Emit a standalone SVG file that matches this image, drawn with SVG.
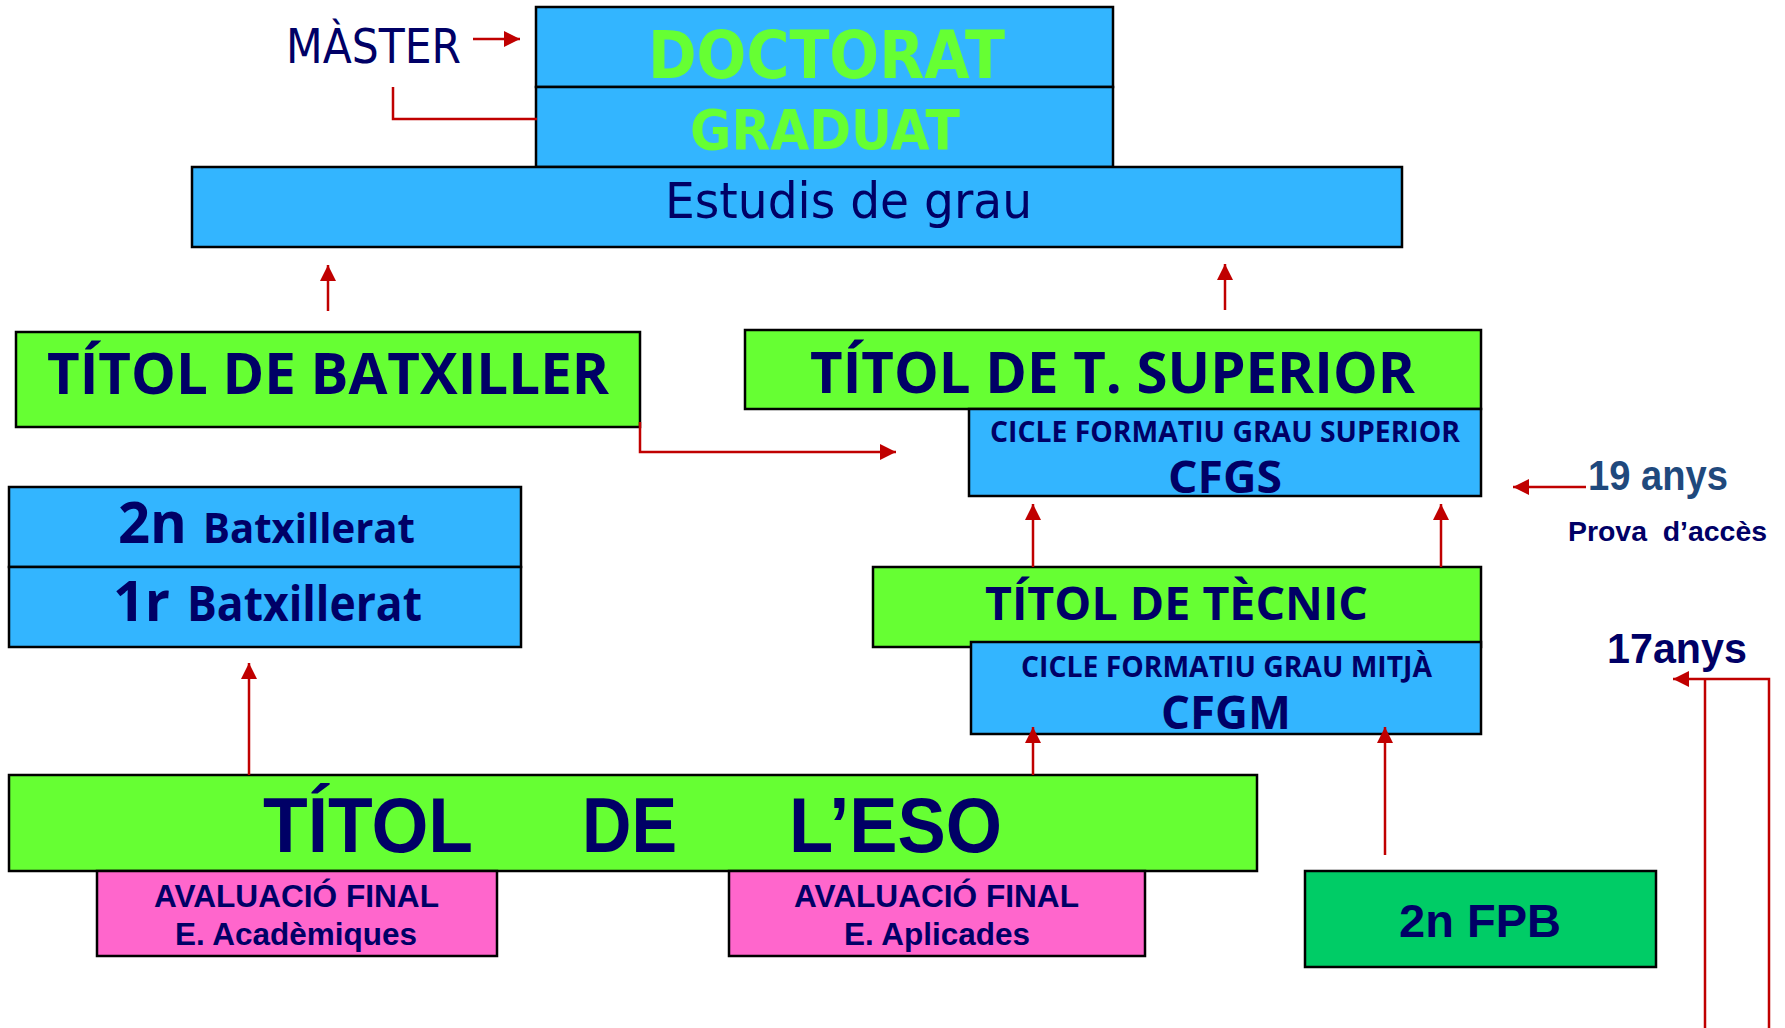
<svg xmlns="http://www.w3.org/2000/svg" width="1785" height="1028" viewBox="0 0 1785 1028">
<style>
.box{stroke:#000;stroke-width:2.5}
.blue{fill:#33B5FF}
.green{fill:#66FF33}
.pink{fill:#FF66CC}
.fpb{fill:#00CC66}
.nv{fill:#000066}
.hum{font-family:"Open Sans","Noto Sans",sans-serif;font-weight:bold}
.ver{font-family:"DejaVu Sans",Verdana,sans-serif}
.ari{font-family:"Liberation Sans",Arial,sans-serif;font-weight:bold}
.con{fill:none;stroke:#C00000;stroke-width:2.5}
</style>
<defs>
<marker id="ah" markerUnits="userSpaceOnUse" markerWidth="17" markerHeight="17" refX="16" refY="8" orient="auto">
<path d="M0,0 L16,8 L0,16 z" fill="#C00000"/>
</marker>
</defs>
<rect width="1785" height="1028" fill="#fff"/>

<g id="master">
<text x="286" y="63" class="ver nv" font-size="48" textLength="175" lengthAdjust="spacingAndGlyphs">MÀSTER</text>
</g>
<g id="doctorat">
<rect x="536" y="7" width="577" height="80" class="box blue"/>
<text x="648" y="78" class="ver" font-weight="bold" font-size="66" fill="#66FF33" textLength="357" lengthAdjust="spacingAndGlyphs">DOCTORAT</text>
</g>
<g id="graduat">
<rect x="536" y="87" width="577" height="80" class="box blue"/>
<text x="690" y="149" class="ver" font-weight="bold" font-size="56" fill="#66FF33" textLength="270" lengthAdjust="spacingAndGlyphs">GRADUAT</text>
</g>
<g id="estudis">
<rect x="192" y="167" width="1210" height="80" class="box blue"/>
<text x="665" y="218" class="ver nv" font-size="50" textLength="367" lengthAdjust="spacingAndGlyphs">Estudis de grau</text>
</g>
<g id="batxiller">
<rect x="16" y="332" width="624" height="95" class="box green"/>
<text x="47" y="394" class="hum nv" font-size="57" textLength="562" lengthAdjust="spacingAndGlyphs">TÍTOL DE BATXILLER</text>
</g>
<g id="tsuperior">
<rect x="745" y="330" width="736" height="79" class="box green"/>
<text x="810" y="393" class="hum nv" font-size="57" textLength="605" lengthAdjust="spacingAndGlyphs">TÍTOL DE T. SUPERIOR</text>
</g>
<g id="cfgs">
<rect x="969" y="409" width="512" height="87" class="box blue"/>
<text x="990" y="442" class="hum nv" font-size="28" textLength="470" lengthAdjust="spacingAndGlyphs">CICLE FORMATIU GRAU SUPERIOR</text>
<text x="1168" y="493" class="hum nv" font-size="44" textLength="114" lengthAdjust="spacingAndGlyphs">CFGS</text>
</g>
<g id="batx2">
<rect x="9" y="487" width="512" height="80" class="box blue"/>
<text x="118" y="543" class="hum nv" font-size="57" textLength="69" lengthAdjust="spacingAndGlyphs">2n</text>
<text x="203" y="543" class="hum nv" font-size="42" textLength="212" lengthAdjust="spacingAndGlyphs">Batxillerat</text>
</g>
<g id="batx1">
<rect x="9" y="567" width="512" height="80" class="box blue"/>
<text x="113" y="621" class="hum nv" font-size="55" textLength="57" lengthAdjust="spacingAndGlyphs">1r</text>
<text x="187" y="621" class="hum nv" font-size="48" textLength="235" lengthAdjust="spacingAndGlyphs">Batxillerat</text>
</g>
<g id="tecnic">
<rect x="873" y="567" width="608" height="80" class="box green"/>
<text x="985" y="620" class="hum nv" font-size="46" textLength="383" lengthAdjust="spacingAndGlyphs">TÍTOL DE TÈCNIC</text>
</g>
<g id="cfgm">
<rect x="971" y="642" width="510" height="92" class="box blue"/>
<text x="1021" y="677" class="hum nv" font-size="28" textLength="411" lengthAdjust="spacingAndGlyphs">CICLE FORMATIU GRAU MITJÀ</text>
<text x="1161" y="729" class="hum nv" font-size="46" textLength="130" lengthAdjust="spacingAndGlyphs">CFGM</text>
</g>
<g id="anys19">
<text x="1588" y="490" class="ari" font-size="42" fill="#1F497D" textLength="140" lengthAdjust="spacingAndGlyphs">19 anys</text>
<text x="1568" y="541" class="ari nv" font-size="28" xml:space="preserve" textLength="199" lengthAdjust="spacingAndGlyphs">Prova  d’accès</text>
</g>
<g id="anys17">
<text x="1607" y="663" class="ari nv" font-size="42" textLength="140" lengthAdjust="spacingAndGlyphs">17anys</text>
</g>
<g id="eso">
<rect x="9" y="775" width="1248" height="96" class="box green"/>
<text y="852" class="ari nv" font-size="77"><tspan x="263" textLength="210" lengthAdjust="spacingAndGlyphs">TÍTOL</tspan><tspan x="582" textLength="95" lengthAdjust="spacingAndGlyphs">DE</tspan><tspan x="789" textLength="213" lengthAdjust="spacingAndGlyphs">L’ESO</tspan></text>
</g>
<g id="aval1">
<rect x="97" y="871" width="400" height="85" class="box pink"/>
<text x="154" y="907" class="ari nv" font-size="31" textLength="285" lengthAdjust="spacingAndGlyphs">AVALUACIÓ FINAL</text>
<text x="175" y="945" class="ari nv" font-size="31" textLength="242" lengthAdjust="spacingAndGlyphs">E. Acadèmiques</text>
</g>
<g id="aval2">
<rect x="729" y="871" width="416" height="85" class="box pink"/>
<text x="794" y="907" class="ari nv" font-size="31" textLength="285" lengthAdjust="spacingAndGlyphs">AVALUACIÓ FINAL</text>
<text x="844" y="945" class="ari nv" font-size="31" textLength="186" lengthAdjust="spacingAndGlyphs">E. Aplicades</text>
</g>
<g id="fpb">
<rect x="1305" y="871" width="351" height="96" class="box fpb"/>
<text x="1399" y="937" class="ari nv" font-size="47" textLength="162" lengthAdjust="spacingAndGlyphs">2n FPB</text>
</g>

<g id="connectors">
<path class="con" d="M473,39 H520" marker-end="url(#ah)"/>
<path class="con" d="M393,87 V119 H537"/>
<path class="con" d="M328,311 V265" marker-end="url(#ah)"/>
<path class="con" d="M1225,310 V264" marker-end="url(#ah)"/>
<path class="con" d="M640,422 V452 H896" marker-end="url(#ah)"/>
<path class="con" d="M1033,567 V504" marker-end="url(#ah)"/>
<path class="con" d="M1441,567 V504" marker-end="url(#ah)"/>
<path class="con" d="M1586,487 H1513" marker-end="url(#ah)"/>
<path class="con" d="M249,775 V663" marker-end="url(#ah)"/>
<path class="con" d="M1033,775 V727" marker-end="url(#ah)"/>
<path class="con" d="M1385,855 V727" marker-end="url(#ah)"/>
<path class="con" d="M1705,1028 V679"/>
<path class="con" d="M1769,1028 V679 H1673" marker-end="url(#ah)"/>
</g>
</svg>
